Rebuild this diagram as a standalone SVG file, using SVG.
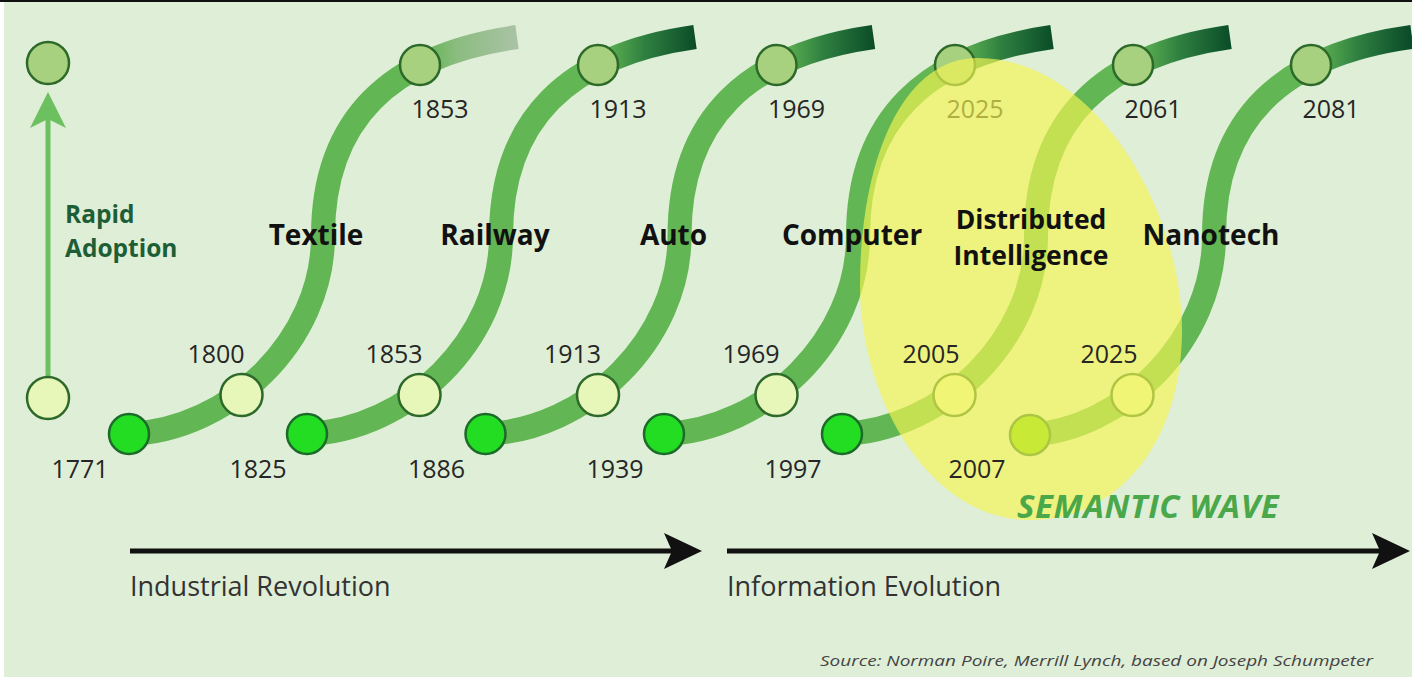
<svg xmlns="http://www.w3.org/2000/svg" width="1412" height="677" viewBox="0 0 1412 677">
<defs>
<style>
.curve{fill:none;stroke-width:24;stroke-linecap:butt}
.c-start{fill:#22dd22;stroke:#1d6b2a;stroke-width:2.5}
.c-mid{fill:#e7f6b9;stroke:#2d6a2a;stroke-width:2.5}
.c-top{fill:#a8d17f;stroke:#2d6a2a;stroke-width:2.5}
.yr{font-family:"Open Sans","Liberation Sans",sans-serif;font-size:25px;fill:#262626;text-anchor:middle}
.name{font-family:"Open Sans","Liberation Sans",sans-serif;font-size:28px;font-weight:700;fill:#111;text-anchor:middle}
.name2{font-family:"Open Sans","Liberation Sans",sans-serif;font-size:26.5px;font-weight:700;fill:#111;text-anchor:middle}
.era{font-family:"Open Sans","Liberation Sans",sans-serif;font-size:27px;fill:#333}
.rapid{font-family:"Open Sans","Liberation Sans",sans-serif;font-size:24.5px;font-weight:700;fill:#1e5e36}
.sem{font-family:"Open Sans","Liberation Sans",sans-serif;font-size:33px;font-weight:700;font-style:italic;fill:#4aa84a;letter-spacing:0.6px}
.src{font-family:"Open Sans","Liberation Sans",sans-serif;font-size:15px;font-style:italic;fill:#444}
.tl{stroke:#111;stroke-width:5;fill:none}
</style>
<linearGradient id="tailDark" gradientUnits="userSpaceOnUse" x1="425" y1="0" x2="517" y2="0">
<stop offset="0" stop-color="#62b653"/>
<stop offset="0.45" stop-color="#2f8040"/>
<stop offset="1" stop-color="#0b4d29"/>
</linearGradient>
<linearGradient id="tailFade" gradientUnits="userSpaceOnUse" x1="425" y1="0" x2="517" y2="0">
<stop offset="0" stop-color="#62b653"/>
<stop offset="0.35" stop-color="#8cbc80"/>
<stop offset="1" stop-color="#a9c3a5"/>
</linearGradient>
<marker id="arrowBlack" markerUnits="userSpaceOnUse" viewBox="0 0 38 36" markerWidth="38" markerHeight="36" refX="26" refY="18" orient="auto">
<path d="M0,0 L38,18 L0,36 L8,18 Z" fill="#111"/>
</marker>
<marker id="arrowGreen" markerUnits="userSpaceOnUse" viewBox="0 0 36 36" markerWidth="36" markerHeight="36" refX="24" refY="18" orient="auto">
<path d="M0,0 L36,18 L0,36 L9,18 Z" fill="#6cc060"/>
</marker>
</defs>

<rect x="0" y="0" width="1412" height="677" fill="#ffffff"/>
<rect x="4" y="0" width="1408" height="677" fill="#dfeed7"/>
<rect x="0" y="0" width="1412" height="2" fill="#111"/>

<g id="connectors">
<line x1="48" y1="376" x2="48" y2="104" stroke="#6cc060" stroke-width="5" marker-end="url(#arrowGreen)"/>
<line class="tl" x1="130" y1="551" x2="690" y2="551" marker-end="url(#arrowBlack)"/>
<line class="tl" x1="727" y1="551" x2="1398" y2="551" marker-end="url(#arrowBlack)"/>
</g>

<g id="rapid-adoption">
<circle class="c-top" cx="48" cy="63" r="21"/>
<circle class="c-mid" cx="48" cy="398" r="21"/>
<text class="rapid" x="65" y="223">Rapid<tspan x="65" y="257">Adoption</tspan></text>
</g>

<g id="wave-textile">
<path class="curve" d="M129,434 C230,430 323,340 323,236 C323,120 390,55 517,37" stroke="url(#tailFade)"/>
<circle class="c-start" cx="129" cy="434" r="20"/>
<circle class="c-mid" cx="241.5" cy="395" r="21"/>
<circle class="c-top" cx="420" cy="65" r="20"/>
<text class="yr" x="80" y="478">1771</text>
<text class="yr" x="216" y="363">1800</text>
<text class="yr" x="440" y="118">1853</text>
<text class="name" x="316" y="245">Textile</text>
</g>

<g id="wave-railway" transform="translate(178,0)">
<path class="curve" d="M129,434 C230,430 323,340 323,236 C323,120 390,55 517,37" stroke="url(#tailDark)"/>
<circle class="c-start" cx="129" cy="434" r="20"/>
<circle class="c-mid" cx="241.5" cy="395" r="21"/>
<circle class="c-top" cx="420" cy="65" r="20"/>
<text class="yr" x="80" y="478">1825</text>
<text class="yr" x="216" y="363">1853</text>
<text class="yr" x="440" y="118">1913</text>
<text class="name" x="317" y="245">Railway</text>
</g>

<g id="wave-auto" transform="translate(356.5,0)">
<path class="curve" d="M129,434 C230,430 323,340 323,236 C323,120 390,55 517,37" stroke="url(#tailDark)"/>
<circle class="c-start" cx="129" cy="434" r="20"/>
<circle class="c-mid" cx="241.5" cy="395" r="21"/>
<circle class="c-top" cx="420" cy="65" r="20"/>
<text class="yr" x="80" y="478">1886</text>
<text class="yr" x="216" y="363">1913</text>
<text class="yr" x="440" y="118">1969</text>
<text class="name" x="317" y="245">Auto</text>
</g>

<g id="wave-computer" transform="translate(535,0)">
<path class="curve" d="M129,434 C230,430 323,340 323,236 C323,120 390,55 517,37" stroke="url(#tailDark)"/>
<circle class="c-start" cx="129" cy="434" r="20"/>
<circle class="c-mid" cx="241.5" cy="395" r="21"/>
<circle class="c-top" cx="420" cy="65" r="20"/>
<text class="yr" x="80" y="478">1939</text>
<text class="yr" x="216" y="363">1969</text>
<text class="yr" x="440" y="118">2025</text>
</g>

<g id="wave-distributed-intelligence" transform="translate(713,0)">
<path class="curve" d="M129,434 C230,430 323,340 323,236 C323,120 390,55 517,37" stroke="url(#tailDark)"/>
<circle class="c-start" cx="129" cy="434" r="20"/>
<circle class="c-mid" cx="241.5" cy="395" r="21"/>
<circle class="c-top" cx="420" cy="65" r="20"/>
<text class="yr" x="80" y="478">1997</text>
<text class="yr" x="440" y="118">2061</text>
</g>

<g id="wave-nanotech" transform="translate(891,0)">
<path class="curve" d="M137,435 C232,430 323,340 323,236 C323,120 390,55 521,37" stroke="url(#tailDark)"/>
<circle class="c-start" cx="139" cy="435" r="20" style="fill:#6fd400"/>
<circle class="c-mid" cx="241.5" cy="395" r="21"/>
<circle class="c-top" cx="420" cy="65" r="20"/>
<text class="yr" x="440" y="118">2081</text>
</g>

<g id="semantic-wave">
<path d="M978,58 C1095,58 1182,210 1182,330 C1182,440 1120,520 1030,520 C930,520 860,400 860,285 C860,165 900,58 978,58 Z" fill="#f6f552" fill-opacity="0.66"/>
<text class="sem" x="1017" y="518">SEMANTIC WAVE</text>
</g>

<g id="labels-over-wave">
<text class="name" x="852" y="245">Computer</text>
<text class="name2" x="1031" y="229">Distributed<tspan x="1031" y="265">Intelligence</tspan></text>
<text class="name" x="1211" y="245">Nanotech</text>
<text class="yr" x="931" y="363">2005</text>
<text class="yr" x="1109" y="363">2025</text>
<text class="yr" x="977" y="478">2007</text>
</g>

<g id="legend">
<text class="era" x="130" y="596">Industrial Revolution</text>
<text class="era" x="727" y="596">Information Evolution</text>
<text class="src" x="820" y="666" textLength="553" lengthAdjust="spacingAndGlyphs">Source: Norman Poire, Merrill Lynch, based on Joseph Schumpeter</text>
</g>
</svg>
